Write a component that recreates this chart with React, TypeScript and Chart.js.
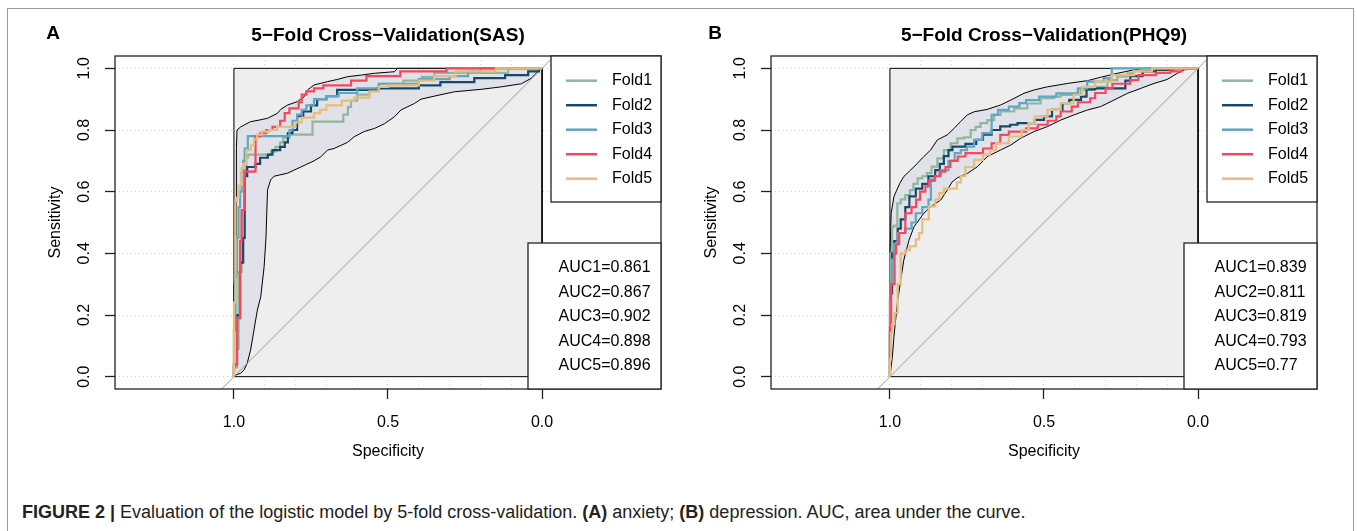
import React, { useEffect, useRef } from 'react';
import { Chart, registerables } from 'chart.js';

Chart.register(...registerables);

type P = [number, number];

const FOLD_LABELS = ['Fold1', 'Fold2', 'Fold3', 'Fold4', 'Fold5'];
const FOLD_COLORS = ['#8DB89F', '#17496A', '#5FA7C3', '#F8475C', '#E9BC7C'];

const X_TICKS = [1.0, 0.5, 0.0];
const X_GRID = [0, 0.1, 0.2, 0.3, 0.4, 0.5, 0.6, 0.7, 0.8, 0.9, 1];
const Y_TICKS = [0, 0.2, 0.4, 0.6, 0.8, 1];

const SQUARE: P[] = [[1, 0], [1, 1], [0, 1], [0, 0], [1, 0]];
const DIAGONAL: P[] = [[1.5, -0.5], [-0.5, 1.5]];

// ---------- Panel A (SAS) ----------
const SAS_FOLD1: P[] = [[1, 0], [0.99, 0.03], [0.985, 0.09], [0.975, 0.34], [0.965, 0.54], [0.96, 0.67], [0.955, 0.71], [0.88, 0.72], [0.865, 0.73], [0.85, 0.745], [0.84, 0.76], [0.82, 0.775], [0.745, 0.785], [0.645, 0.827], [0.63, 0.85], [0.62, 0.875], [0.6, 0.895], [0.56, 0.915], [0.53, 0.93], [0.45, 0.95], [0.39, 0.96], [0.35, 0.972], [0.11, 0.985], [0, 1]];
const SAS_FOLD2: P[] = [[1, 0], [0.99, 0.04], [0.98, 0.2], [0.97, 0.37], [0.965, 0.45], [0.957, 0.65], [0.93, 0.68], [0.915, 0.69], [0.89, 0.71], [0.875, 0.72], [0.85, 0.735], [0.835, 0.745], [0.825, 0.76], [0.81, 0.79], [0.795, 0.8], [0.775, 0.845], [0.75, 0.86], [0.73, 0.88], [0.7, 0.9], [0.665, 0.91], [0.535, 0.93], [0.4, 0.935], [0.33, 0.945], [0.22, 0.955], [0.12, 0.968], [0.045, 0.978], [0.01, 0.99], [0, 1]];
const SAS_FOLD3: P[] = [[1, 0], [0.995, 0.15], [0.99, 0.335], [0.985, 0.45], [0.98, 0.55], [0.975, 0.6], [0.97, 0.66], [0.965, 0.7], [0.955, 0.74], [0.82, 0.78], [0.81, 0.8], [0.795, 0.83], [0.78, 0.85], [0.765, 0.865], [0.74, 0.88], [0.7, 0.9], [0.66, 0.91], [0.6, 0.92], [0.53, 0.935], [0.4, 0.95], [0.3, 0.965], [0.24, 0.975], [0.2, 0.99], [0.05, 1], [0, 1]];
const SAS_FOLD4: P[] = [[1, 0], [0.99, 0.04], [0.98, 0.19], [0.975, 0.44], [0.965, 0.54], [0.93, 0.665], [0.915, 0.78], [0.895, 0.79], [0.875, 0.8], [0.85, 0.81], [0.835, 0.83], [0.82, 0.855], [0.79, 0.87], [0.78, 0.89], [0.765, 0.915], [0.74, 0.925], [0.71, 0.935], [0.62, 0.945], [0.57, 0.96], [0.46, 0.975], [0.31, 0.99], [0, 1]];
const SAS_FOLD5: P[] = [[1, 0], [0.995, 0.24], [0.99, 0.57], [0.985, 0.58], [0.975, 0.62], [0.97, 0.675], [0.96, 0.69], [0.945, 0.735], [0.935, 0.75], [0.925, 0.77], [0.91, 0.785], [0.885, 0.795], [0.86, 0.8], [0.8, 0.81], [0.78, 0.825], [0.74, 0.84], [0.72, 0.855], [0.7, 0.865], [0.65, 0.88], [0.61, 0.895], [0.56, 0.905], [0.53, 0.925], [0.5, 0.94], [0.4, 0.945], [0.35, 0.96], [0.28, 0.975], [0.15, 0.99], [0, 1]];
const SAS_CI_UPPER: P[] = [[1, 0], [1, 0.3], [0.993, 0.32], [0.992, 0.74], [0.99, 0.8], [0.978, 0.81], [0.967, 0.816], [0.946, 0.827], [0.919, 0.832], [0.891, 0.838], [0.859, 0.854], [0.848, 0.867], [0.826, 0.881], [0.794, 0.892], [0.772, 0.908], [0.761, 0.93], [0.74, 0.946], [0.696, 0.957], [0.664, 0.964], [0.631, 0.973], [0.588, 0.978], [0.544, 0.984], [0.479, 0.989], [0.469, 1], [0, 1]];
const SAS_CI_LOWER: P[] = [[1, 0], [0.995, 0.005], [0.978, 0.011], [0.967, 0.022], [0.957, 0.043], [0.946, 0.086], [0.935, 0.151], [0.924, 0.216], [0.913, 0.259], [0.902, 0.357], [0.896, 0.45], [0.891, 0.605], [0.881, 0.638], [0.87, 0.65], [0.826, 0.66], [0.783, 0.68], [0.74, 0.7], [0.718, 0.713], [0.696, 0.735], [0.675, 0.74], [0.653, 0.75], [0.631, 0.76], [0.61, 0.778], [0.577, 0.795], [0.544, 0.805], [0.512, 0.82], [0.479, 0.843], [0.458, 0.865], [0.414, 0.886], [0.393, 0.9], [0.349, 0.91], [0.284, 0.924], [0.197, 0.932], [0.132, 0.94], [0.067, 0.95], [0.035, 0.968], [0.008, 0.995], [0, 1]];
const SAS_AUC = [0.861, 0.867, 0.902, 0.898, 0.896];

// ---------- Panel B (PHQ9) ----------
const PHQ9_FOLD1: P[] = [[1, 0], [0.998, 0.25], [0.993, 0.4], [0.987, 0.486], [0.976, 0.49], [0.965, 0.562], [0.95, 0.575], [0.935, 0.589], [0.924, 0.605], [0.91, 0.625], [0.895, 0.643], [0.88, 0.65], [0.865, 0.66], [0.846, 0.681], [0.825, 0.708], [0.803, 0.735], [0.781, 0.757], [0.76, 0.773], [0.738, 0.776], [0.722, 0.8], [0.706, 0.81], [0.684, 0.822], [0.662, 0.832], [0.641, 0.849], [0.597, 0.86], [0.554, 0.87], [0.511, 0.886], [0.467, 0.903], [0.446, 0.908], [0.381, 0.914], [0.338, 0.93], [0.294, 0.94], [0.262, 0.962], [0.229, 0.973], [0.208, 0.984], [0.154, 0.992], [0.12, 1], [0, 1]];
const PHQ9_FOLD2: P[] = [[1, 0], [0.997, 0.14], [0.993, 0.27], [0.986, 0.4], [0.975, 0.44], [0.965, 0.48], [0.95, 0.51], [0.937, 0.55], [0.916, 0.585], [0.895, 0.61], [0.875, 0.625], [0.853, 0.65], [0.838, 0.67], [0.825, 0.69], [0.81, 0.715], [0.797, 0.735], [0.755, 0.746], [0.72, 0.755], [0.698, 0.768], [0.67, 0.785], [0.642, 0.8], [0.61, 0.812], [0.586, 0.817], [0.53, 0.822], [0.5, 0.833], [0.474, 0.844], [0.44, 0.865], [0.418, 0.887], [0.38, 0.898], [0.362, 0.908], [0.334, 0.932], [0.236, 0.935], [0.22, 0.96], [0.18, 0.975], [0.137, 0.99], [0.08, 0.995], [0.03, 1], [0, 1]];
const PHQ9_FOLD3: P[] = [[1, 0], [0.998, 0.25], [0.993, 0.3], [0.987, 0.38], [0.975, 0.43], [0.95, 0.466], [0.93, 0.48], [0.916, 0.5], [0.895, 0.53], [0.875, 0.55], [0.867, 0.574], [0.853, 0.64], [0.835, 0.65], [0.81, 0.67], [0.79, 0.7], [0.77, 0.725], [0.75, 0.735], [0.727, 0.746], [0.7, 0.768], [0.67, 0.79], [0.649, 0.849], [0.614, 0.865], [0.58, 0.876], [0.558, 0.887], [0.516, 0.897], [0.46, 0.908], [0.39, 0.919], [0.36, 0.935], [0.306, 0.957], [0.28, 0.968], [0.236, 1], [0, 1]];
const PHQ9_FOLD4: P[] = [[1, 0], [0.996, 0.16], [0.985, 0.3], [0.98, 0.4], [0.97, 0.43], [0.95, 0.466], [0.93, 0.53], [0.915, 0.55], [0.902, 0.574], [0.885, 0.6], [0.874, 0.617], [0.855, 0.635], [0.839, 0.65], [0.82, 0.665], [0.804, 0.68], [0.78, 0.7], [0.755, 0.714], [0.698, 0.725], [0.67, 0.74], [0.642, 0.757], [0.614, 0.784], [0.558, 0.795], [0.52, 0.805], [0.488, 0.817], [0.46, 0.83], [0.446, 0.844], [0.41, 0.86], [0.39, 0.876], [0.35, 0.89], [0.334, 0.903], [0.3, 0.92], [0.278, 0.935], [0.22, 0.95], [0.194, 0.962], [0.137, 0.978], [0.09, 0.985], [0.053, 0.99], [0.02, 1], [0, 1]];
const PHQ9_FOLD5: P[] = [[1, 0], [0.997, 0.056], [0.993, 0.142], [0.985, 0.17], [0.975, 0.207], [0.965, 0.3], [0.95, 0.4], [0.935, 0.41], [0.916, 0.423], [0.905, 0.445], [0.895, 0.466], [0.874, 0.51], [0.853, 0.552], [0.84, 0.575], [0.825, 0.595], [0.783, 0.61], [0.77, 0.63], [0.755, 0.65], [0.727, 0.68], [0.698, 0.703], [0.675, 0.72], [0.656, 0.735], [0.614, 0.757], [0.572, 0.779], [0.55, 0.8], [0.53, 0.822], [0.488, 0.844], [0.446, 0.865], [0.404, 0.887], [0.376, 0.914], [0.334, 0.94], [0.28, 0.957], [0.207, 0.978], [0.15, 0.99], [0.07, 1], [0, 1]];
const PHQ9_CI_UPPER: P[] = [[1, 0], [1, 0.39], [0.996, 0.53], [0.987, 0.584], [0.978, 0.605], [0.968, 0.627], [0.955, 0.649], [0.933, 0.67], [0.911, 0.692], [0.89, 0.714], [0.868, 0.735], [0.846, 0.768], [0.814, 0.784], [0.792, 0.805], [0.771, 0.827], [0.749, 0.849], [0.727, 0.859], [0.684, 0.867], [0.641, 0.881], [0.608, 0.897], [0.565, 0.919], [0.532, 0.93], [0.489, 0.94], [0.424, 0.951], [0.359, 0.96], [0.316, 0.971], [0.262, 0.984], [0.208, 0.995], [0.175, 1], [0, 1]];
const PHQ9_CI_LOWER: P[] = [[1, 0], [0.992, 0.065], [0.987, 0.13], [0.976, 0.238], [0.965, 0.313], [0.955, 0.378], [0.938, 0.443], [0.922, 0.486], [0.906, 0.508], [0.89, 0.53], [0.868, 0.551], [0.835, 0.573], [0.814, 0.605], [0.798, 0.632], [0.781, 0.645], [0.749, 0.659], [0.716, 0.681], [0.684, 0.714], [0.641, 0.735], [0.608, 0.751], [0.576, 0.773], [0.532, 0.795], [0.489, 0.811], [0.446, 0.832], [0.403, 0.849], [0.359, 0.865], [0.316, 0.876], [0.273, 0.897], [0.229, 0.919], [0.186, 0.935], [0.143, 0.951], [0.1, 0.964], [0.067, 0.984], [0.045, 0.995], [0, 1]];
const PHQ9_AUC = [0.839, 0.811, 0.819, 0.793, 0.77];

const FONT = '"Liberation Sans", Arial, Helvetica, sans-serif';

interface PanelCfg {
  title: string;
  letter: string;
  letterX: number;
  folds: P[][];
  upper: P[];
  lower: P[];
  auc: number[];
  left: number;
  width: number;
}

const PANELS: PanelCfg[] = [
  { title: '5\u2212Fold Cross\u2212Validation(SAS)', letter: 'A', letterX: 53, folds: [SAS_FOLD1, SAS_FOLD2, SAS_FOLD3, SAS_FOLD4, SAS_FOLD5], upper: SAS_CI_UPPER, lower: SAS_CI_LOWER, auc: SAS_AUC, left: 0, width: 680 },
  { title: '5\u2212Fold Cross\u2212Validation(PHQ9)', letter: 'B', letterX: 59, folds: [PHQ9_FOLD1, PHQ9_FOLD2, PHQ9_FOLD3, PHQ9_FOLD4, PHQ9_FOLD5], upper: PHQ9_CI_UPPER, lower: PHQ9_CI_LOWER, auc: PHQ9_AUC, left: 656, width: 701 },
];

const CANVAS_H = 480;
const BOX_W = 546;
const Y_AXIS_W = 115;
const PAD_TOP = 56;
const X_AXIS_H = CANVAS_H - 389;

const xy = (arr: P[]) => arr.map(([x, y]) => ({ x, y }));

function makeConfig(p: PanelCfg): any {
  const band = [...p.upper, ...[...p.lower].reverse()];
  const foldSets = p.folds.map((f, i) => ({
    label: FOLD_LABELS[i],
    data: xy(f),
    borderColor: FOLD_COLORS[i],
    borderWidth: 2.2,
    stepped: 'after',
    fill: false,
    order: 10 - i,
  }));
  const overlay = {
    id: 'overlay' + p.letter,
    afterDraw(chart: any) {
      const { ctx, chartArea: a, scales } = chart;
      ctx.save();
      // y tick labels (rotated, like R)
      ctx.fillStyle = '#000';
      ctx.font = `16px ${FONT}`;
      ctx.textAlign = 'center';
      ctx.textBaseline = 'middle';
      for (const v of Y_TICKS) {
        const yy = scales.y.getPixelForValue(v);
        ctx.save();
        ctx.translate(a.left - 30, yy);
        ctx.rotate(-Math.PI / 2);
        ctx.fillText(v.toFixed(1), 0, 0);
        ctx.restore();
      }
      // plot box
      ctx.strokeStyle = '#222';
      ctx.lineWidth = 1.3;
      ctx.strokeRect(a.left, a.top, a.right - a.left, a.bottom - a.top);
      // legend box
      const lw = 110, lh = 146;
      const lx = a.right - lw, ly = a.top;
      ctx.fillStyle = '#fff';
      ctx.fillRect(lx, ly, lw, lh);
      ctx.strokeRect(lx, ly, lw, lh);
      ctx.textAlign = 'left';
      for (let i = 0; i < FOLD_LABELS.length; i++) {
        const yy = ly + 24.7 + i * 24.5;
        ctx.strokeStyle = FOLD_COLORS[i];
        ctx.lineWidth = 2.5;
        ctx.beginPath();
        ctx.moveTo(lx + 15, yy);
        ctx.lineTo(lx + 46, yy);
        ctx.stroke();
        ctx.fillStyle = '#000';
        ctx.fillText(FOLD_LABELS[i], lx + 61, yy);
      }
      // AUC box
      const aw = 133;
      const ax = a.right - aw, ay = a.top + 187;
      ctx.fillStyle = '#fff';
      ctx.fillRect(ax, ay, aw, a.bottom - ay);
      ctx.strokeStyle = '#222';
      ctx.lineWidth = 1.3;
      ctx.strokeRect(ax, ay, aw, a.bottom - ay);
      ctx.fillStyle = '#000';
      p.auc.forEach((v, i) => {
        ctx.fillText(`AUC${i + 1}=${v}`, ax + 30.5, ay + 25 + i * 24.4);
      });
      // title & panel letter
      ctx.font = `bold 19px ${FONT}`;
      ctx.textAlign = 'center';
      ctx.fillText(p.title, (a.left + a.right) / 2, a.top - 20);
      ctx.fillText(p.letter, p.letterX, a.top - 22);
      ctx.restore();
    },
  };
  return {
    type: 'line',
    data: {
      datasets: [
        ...foldSets,
        { label: 'diag', data: xy(DIAGONAL), borderColor: '#9a9a9a', borderWidth: 1, fill: false, order: 20 },
        { label: 'ci', data: xy(band), borderColor: '#000', borderWidth: 1, backgroundColor: '#E1E1E9', fill: 'shape', order: 30 },
        { label: 'bg', data: xy(SQUARE), borderColor: '#000', borderWidth: 1, backgroundColor: '#EEEEEE', fill: 'shape', order: 40 },
      ],
    },
    options: {
      responsive: false,
      animation: false,
      events: [],
      layout: { padding: { left: 0, top: PAD_TOP, right: p.width - Y_AXIS_W - BOX_W, bottom: 0 } },
      elements: { point: { radius: 0, hoverRadius: 0 }, line: { tension: 0 } },
      plugins: { legend: { display: false }, title: { display: false }, tooltip: { enabled: false } },
      scales: {
        x: {
          type: 'linear',
          min: -0.386,
          max: 1.386,
          reverse: true,
          afterBuildTicks: (s: any) => { s.ticks = X_GRID.map((v) => ({ value: v })); },
          afterFit: (s: any) => { s.height = X_AXIS_H; },
          ticks: {
            autoSkip: false,
            maxRotation: 0,
            minRotation: 0,
            padding: 14,
            color: '#000',
            font: { size: 16, family: FONT },
            callback: (v: number) => (X_TICKS.some((t) => Math.abs(t - v) < 1e-9) ? Number(v).toFixed(1) : ''),
          },
          grid: {
            color: '#D3D3D3',
            lineWidth: 1,
            tickLength: 10,
            tickWidth: 1.3,
            tickColor: (c: any) => (X_TICKS.some((t) => Math.abs(t - c.tick.value) < 1e-9) ? '#222' : 'rgba(0,0,0,0)'),
          },
          border: { display: false, dash: [1, 3] },
          title: { display: true, text: 'Specificity', color: '#000', font: { size: 16, family: FONT }, padding: { top: 0, bottom: 18.4 } },
        },
        y: {
          type: 'linear',
          min: -0.04,
          max: 1.04,
          afterBuildTicks: (s: any) => { s.ticks = Y_TICKS.map((v) => ({ value: v })); },
          afterFit: (s: any) => { s.width = Y_AXIS_W; },
          ticks: { display: false },
          grid: { color: '#D3D3D3', lineWidth: 1, tickLength: 10, tickWidth: 1.3, tickColor: '#222' },
          border: { display: false, dash: [1, 3] },
          title: { display: true, text: 'Sensitivity', color: '#000', font: { size: 16, family: FONT }, padding: { top: 46.4, bottom: 0 } },
        },
      },
    },
    plugins: [overlay],
  };
}

function Panel({ cfg }: { cfg: PanelCfg }) {
  const ref = useRef<HTMLCanvasElement>(null);
  useEffect(() => {
    const chart = new Chart(ref.current as HTMLCanvasElement, makeConfig(cfg));
    return () => chart.destroy();
  }, [cfg]);
  return (
    <canvas
      ref={ref}
      width={cfg.width}
      height={CANVAS_H}
      style={{ position: 'absolute', left: cfg.left, top: 0, width: cfg.width, height: CANVAS_H }}
    />
  );
}

export default function App() {
  return (
    <div style={{ position: 'fixed', left: 0, top: 0, width: 1357, height: 531, overflow: 'hidden', background: '#fff' }}>
      <div style={{ position: 'absolute', left: 7, top: 8, width: 1347, height: 600, boxSizing: 'border-box', border: '1px solid #999' }} />
      {PANELS.map((p) => (
        <Panel key={p.letter} cfg={p} />
      ))}
      <div
        style={{
          position: 'absolute',
          left: 22,
          top: 502,
          fontFamily: FONT,
          fontSize: 18,
          lineHeight: '21px',
          whiteSpace: 'nowrap',
          color: '#222',
        }}
      >
        <b>FIGURE 2 |</b> Evaluation of the logistic model by 5-fold cross-validation. <b>(A)</b> anxiety; <b>(B)</b> depression. AUC, area under the curve.
      </div>
    </div>
  );
}
